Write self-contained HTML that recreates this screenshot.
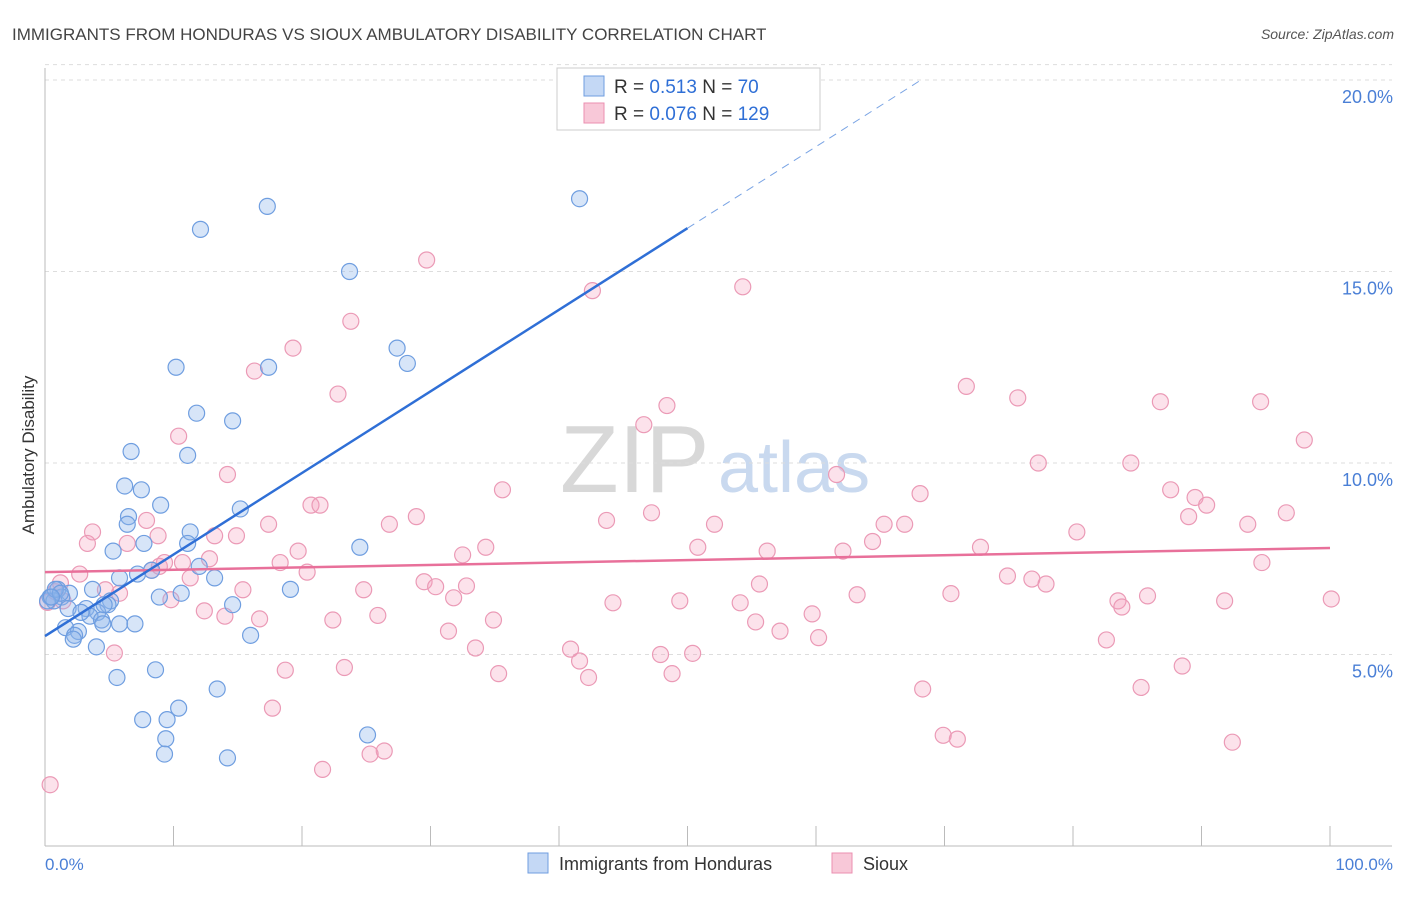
<!DOCTYPE html>
<html><head><meta charset="utf-8"><style>
body{margin:0;background:#fff;font-family:"Liberation Sans",sans-serif}
svg text{font-family:"Liberation Sans",sans-serif}
</style></head><body>
<svg width="1406" height="892" xmlns="http://www.w3.org/2000/svg">
<text x="12" y="40" font-size="17" fill="#444">IMMIGRANTS FROM HONDURAS VS SIOUX AMBULATORY DISABILITY CORRELATION CHART</text>
<text x="1394" y="39" font-size="14" fill="#555" text-anchor="end" font-style="italic">Source: ZipAtlas.com</text>
<text x="560" y="492" font-size="96" fill="#d8d8d8" font-family="Liberation Serif">ZIP</text>
<text x="718" y="492" font-size="72" fill="#c9d9ef">atlas</text>
<g id="grid"></g>
<g id="axes"></g>
<text transform="translate(34,455) rotate(-90)" font-size="17" fill="#333" text-anchor="middle">Ambulatory Disability</text>
<text x="45" y="870" font-size="17" fill="#4a7fd6">0.0%</text>
<text x="1393" y="870" font-size="17" fill="#4a7fd6" text-anchor="end">100.0%</text>
<g id="pts"></g>
<g id="lines"></g>
<g>
<rect x="557" y="68" width="263" height="62" fill="#fff" stroke="#ccc"/>
<rect x="584" y="76" width="20" height="20" fill="#c4d8f5" stroke="#6f9ee0"/>
<rect x="584" y="103" width="20" height="20" fill="#f8c8d8" stroke="#eb8fb0"/>
<text x="614" y="93" font-size="19" fill="#333">R = <tspan fill="#2f6fd6">0.513</tspan>   N = <tspan fill="#2f6fd6"> 70</tspan></text>
<text x="614" y="120" font-size="19" fill="#333">R = <tspan fill="#2f6fd6">0.076</tspan>   N = <tspan fill="#2f6fd6">129</tspan></text>
</g>
<g>
<rect x="528" y="853" width="20" height="20" fill="#c4d8f5" stroke="#6f9ee0"/>
<text x="559" y="870" font-size="18" fill="#333">Immigrants from Honduras</text>
<rect x="832" y="853" width="20" height="20" fill="#f8c8d8" stroke="#eb8fb0"/>
<text x="863" y="870" font-size="18" fill="#333">Sioux</text>
</g>
</svg>
<script>
const yTicks=[5,10,15,20];
const yTickLabels=["5.0%","10.0%","15.0%","20.0%"];
const xTicks=[0,10,20,30,40,50,60,70,80,90,100];
const blueX=[17.3,12.1,41.6,23.7,27.4,10.2,17.4,28.2,11.8,14.6,6.7,11.1,6.2,7.5,9.0,15.2,6.5,6.4,11.3,11.1,7.7,24.5,5.3,8.3,7.2,12.0,13.2,5.8,19.1,10.6,8.9,3.7,1.9,1.0,0.4,1.3,0.7,5.1,4.9,3.2,4.1,3.5,4.4,5.8,7.0,4.5,14.6,1.6,2.6,2.3,2.2,4.0,16.0,8.6,5.6,13.4,10.4,7.6,9.5,25.1,9.4,9.3,14.2,0.2,0.8,1.8,4.6,2.8,1.2,0.5];
const blueY=[16.7,16.1,16.9,15.0,13.0,12.5,12.5,12.6,11.3,11.1,10.3,10.2,9.4,9.3,8.9,8.8,8.6,8.4,8.2,7.9,7.9,7.8,7.7,7.2,7.1,7.3,7.0,7.0,6.7,6.6,6.5,6.7,6.6,6.7,6.5,6.5,6.4,6.4,6.3,6.2,6.1,6.0,5.9,5.8,5.8,5.8,6.3,5.7,5.6,5.5,5.4,5.2,5.5,4.6,4.4,4.1,3.6,3.3,3.3,2.9,2.8,2.4,2.3,6.4,6.7,6.2,6.3,6.1,6.6,6.5];
const pinkX=[29.7,42.6,54.3,23.8,19.3,16.3,22.8,71.7,75.7,86.8,94.6,48.4,10.4,46.6,98.0,14.2,77.3,84.5,61.6,35.6,68.1,87.6,20.7,21.4,89.5,90.4,7.9,17.4,28.9,26.8,43.7,47.2,52.1,89.0,93.6,96.6,3.7,8.8,13.2,14.9,65.3,66.9,80.3,3.3,6.4,19.7,32.5,34.3,50.8,56.2,62.1,64.4,72.8,9.3,12.8,10.7,18.3,20.4,8.9,8.3,11.3,2.7,94.7,1.2,74.9,76.8,77.9,29.5,30.4,32.8,15.4,24.8,55.6,4.7,5.8,9.8,12.4,31.8,44.2,49.4,54.1,63.2,70.5,83.5,85.8,91.8,100.1,83.8,14.0,16.7,22.4,25.9,34.9,59.7,55.3,57.2,31.4,60.2,5.4,33.5,40.9,41.6,47.9,50.4,82.6,88.5,23.3,42.3,35.3,48.8,68.3,85.3,18.7,17.7,69.9,71.0,92.4,26.4,25.3,21.6,0.4,0.8,1.4,0.2];
const pinkY=[15.3,14.5,14.6,13.7,13.0,12.4,11.8,12.0,11.7,11.6,11.6,11.5,10.7,11.0,10.6,9.7,10.0,10.0,9.7,9.3,9.2,9.3,8.9,8.9,9.1,8.9,8.5,8.4,8.6,8.4,8.5,8.7,8.4,8.6,8.4,8.7,8.2,8.1,8.1,8.1,8.4,8.4,8.2,7.9,7.9,7.7,7.6,7.8,7.8,7.7,7.7,7.95,7.8,7.4,7.5,7.4,7.4,7.15,7.3,7.2,7.0,7.1,7.4,6.87,7.05,6.97,6.84,6.9,6.77,6.79,6.69,6.69,6.84,6.69,6.6,6.43,6.14,6.48,6.35,6.4,6.35,6.56,6.59,6.4,6.53,6.4,6.45,6.24,6.0,5.93,5.9,6.02,5.9,6.06,5.85,5.61,5.61,5.44,5.04,5.17,5.14,4.83,5.0,5.03,5.38,4.7,4.66,4.4,4.5,4.5,4.1,4.14,4.59,3.6,2.89,2.79,2.71,2.48,2.4,2.0,1.6,6.64,6.4,6.36,6.77];
const pinkLine=[7.15,7.78];
const blueLine=[5.48,0.213];
const X=v=>45+v*12.85, Y=v=>846-v*38.3;
const NS="http://www.w3.org/2000/svg";
function mk(t,a,p){const e=document.createElementNS(NS,t);for(const k in a)e.setAttribute(k,a[k]);p.appendChild(e);return e;}
const grid=document.getElementById('grid'),axes=document.getElementById('axes'),pts=document.getElementById('pts'),lines=document.getElementById('lines');
yTicks.forEach((t,i)=>{
 const l=mk('line',{x1:45,x2:1392,y1:Y(t),y2:Y(t),stroke:'#ddd','stroke-dasharray':'4,4'},grid);
 
 
 const tx=mk('text',{x:1393,y:Y(t)+23,'font-size':18,fill:'#4a7fd6','text-anchor':'end'},grid);
 tx.textContent=yTickLabels[i];
 
 
});
const tl=mk('line',{x1:45,x2:1392,y1:Y(20.4),y2:Y(20.4),stroke:'#ddd','stroke-dasharray':'4,4'},grid);


const ya=mk('line',{x1:45,x2:45,y1:68,y2:846,stroke:'#bbb'},axes);


const xa=mk('line',{x1:45,x2:1392,y1:846,y2:846,stroke:'#bbb'},axes);


xTicks.forEach(t=>{
 const l=mk('line',{x1:X(t),x2:X(t),y1:826,y2:846,stroke:'#bbb'},axes);
 
 
});
pinkX.forEach((x,i)=>{
 const c=mk('circle',{cx:X(x),cy:Y(pinkY[i]),r:8,fill:'rgba(244,160,190,0.3)',stroke:'#eb9ab6','stroke-width':1.2},pts);
 
 
});
blueX.forEach((x,i)=>{
 const c=mk('circle',{cx:X(x),cy:Y(blueY[i]),r:8,fill:'rgba(140,180,235,0.35)',stroke:'#6f9ee0','stroke-width':1.2},pts);
 
 
});
const pl=mk('line',{x1:X(0),y1:Y(pinkLine[0]),x2:X(100),y2:Y(pinkLine[1]),stroke:'#e8709a','stroke-width':2.5},lines);


const bl=mk('line',{x1:X(0),y1:Y(blueLine[0]),x2:X(50),y2:Y(blueLine[0]+50*blueLine[1]),stroke:'#2f6fd6','stroke-width':2.5},lines);


const bd=mk('line',{x1:X(50),y1:Y(blueLine[0]+50*blueLine[1]),x2:X(68),y2:Y(blueLine[0]+68*blueLine[1]),stroke:'#7aa4e4','stroke-width':1,'stroke-dasharray':'8,6'},lines);


</script>
</body></html>
